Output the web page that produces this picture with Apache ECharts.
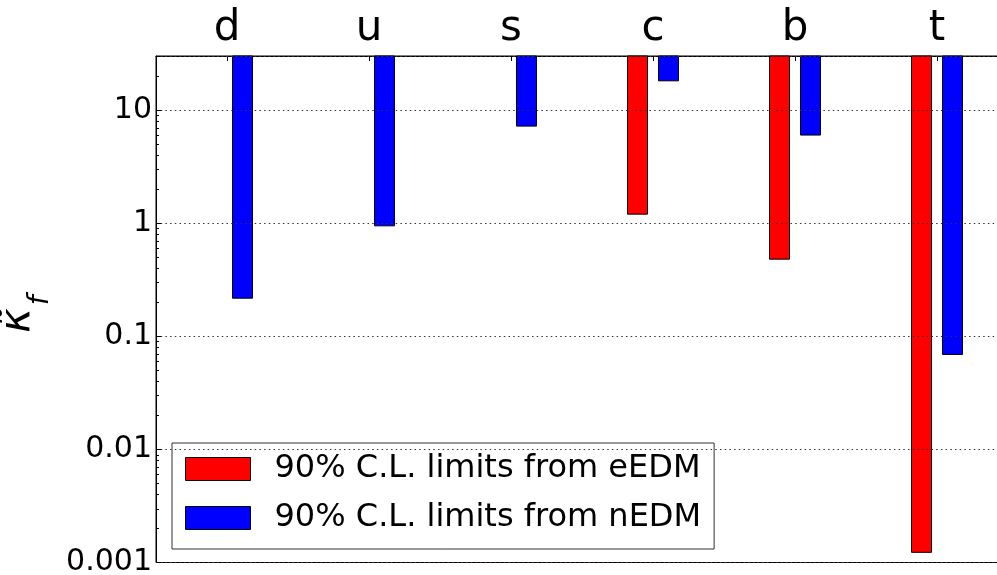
<!DOCTYPE html>
<html>
<head>
<meta charset="utf-8">
<script src="https://cdn.jsdelivr.net/npm/echarts@6/dist/echarts.min.js"></script>
<style>
html,body{margin:0;padding:0;background:#fff;}
#chart{width:997px;height:575px;}
</style>
</head>
<body>
<div id="chart"></div>
<script>
// ---- data ----
const categories = ['d', 'u', 's', 'c', 'b', 't'];
const eEDM = [null, null, null, 1.2, 0.48, 0.00123];   // red
const nEDM = [0.217, 0.946, 7.2, 18.1, 6.0, 0.069];     // blue
const yTickValues = [0.001, 0.01, 0.1, 1, 10];
const yTickLabels = ['0.001', '0.01', '0.1', '1', '10'];
const minorMultipliers = [2, 3, 4, 5, 6, 7, 8, 9];
const seriesNames = ['90% C.L. limits from eEDM', '90% C.L. limits from nEDM'];
const yMin = 0.001, yMax = 30;

const FONT = 'DejaVu Sans';
const chart = echarts.init(document.getElementById('chart'));

function barRenderer(offsetFrac, widthFrac) {
  return function (params, api) {
    const idx = api.value(0), v = api.value(1);
    const top = api.coord([idx, yMax]);
    const bot = api.coord([idx, v]);
    const band = api.size([1, 0])[0];
    return {
      type: 'rect',
      shape: { x: Math.round(top[0] + offsetFrac * band) + 0.5, y: top[1], width: Math.round(widthFrac * band), height: bot[1] - top[1] },
      style: { fill: api.visual('color'), stroke: '#000', lineWidth: 1 }
    };
  };
}
function toData(arr) {
  const out = [];
  arr.forEach((v, i) => { if (v != null) out.push([i, v]); });
  return out;
}

const option = {
  animation: false,
  backgroundColor: '#fff',
  grid: { left: 156, top: 56, right: -11, bottom: 12.5, outerBoundsMode: 'none', containLabel: false, show: true, borderColor: '#000', borderWidth: 1 },
  legend: {
    left: 172, top: 443, orient: 'vertical',
    data: [
      { name: seriesNames[0], icon: 'rect', itemStyle: { color: '#ff0000', borderColor: '#000', borderWidth: 1 } },
      { name: seriesNames[1], icon: 'rect', itemStyle: { color: '#0000ff', borderColor: '#000', borderWidth: 1 } }
    ],
    itemWidth: 65, itemHeight: 23, itemGap: 17,
    padding: [10, 13, 15, 13],
    backgroundColor: '#fff', borderColor: '#333', borderWidth: 1,
    selectedMode: false,
    textStyle: { fontFamily: FONT, fontSize: 32, color: '#000', padding: [0, 0, 0, 19] }
  },
  xAxis: {
    type: 'category', position: 'top', data: categories, boundaryGap: true,
    axisLine: { show: true, lineStyle: { color: '#000', width: 1 } },
    axisTick: { show: true, inside: true, length: 5, alignWithLabel: true, lineStyle: { color: '#000' } },
    axisLabel: { fontFamily: FONT, fontSize: 42, color: '#000', margin: 6 },
    splitLine: { show: false }
  },
  yAxis: {
    type: 'log', logBase: 10, min: yMin, max: yMax, z: 5,
    axisLine: { show: true, lineStyle: { color: '#000', width: 1 } },
    axisTick: { show: true, inside: true, length: 5, lineStyle: { color: '#000' } },
    axisLabel: {
      fontFamily: FONT, fontSize: 30, color: '#000', margin: 4, showMaxLabel: false,
      formatter: function (v) {
        for (let i = 0; i < yTickValues.length; i++) {
          if (Math.abs(Math.log10(v) - Math.log10(yTickValues[i])) < 1e-6) return yTickLabels[i];
        }
        return '';
      }
    },
    splitLine: { show: true, lineStyle: { color: '#333', width: 1, type: [1.5, 3.2] } },
    name: '{k|κ\u0303}{f|f}',
    nameLocation: 'middle', nameGap: 96, nameRotate: 90,
    nameTextStyle: {
      rich: {
        k: { fontFamily: FONT, fontStyle: 'italic', fontSize: 42, color: '#000', verticalAlign: 'bottom', padding: [0, 3, 16, 0] },
        f: { fontFamily: FONT, fontStyle: 'italic', fontSize: 28, color: '#000', verticalAlign: 'bottom', padding: [0, 10, 0, 0] }
      }
    }
  },
  series: [
    {
      name: seriesNames[0], type: 'custom', itemStyle: { color: '#ff0000' },
      renderItem: barRenderer(-0.183, 0.141), data: toData(eEDM), z: 2
    },
    {
      name: seriesNames[1], type: 'custom', itemStyle: { color: '#0000ff' },
      renderItem: barRenderer(0.035, 0.141), data: toData(nEDM), z: 2
    },
    {
      name: 'minorTicks', type: 'custom', silent: true, z: 6,
      data: yTickValues.map(v => [0, v]),
      renderItem: function (params, api) {
        const dec = api.value(1);
        const x0 = params.coordSys.x;
        const children = [];
        minorMultipliers.forEach(m => {
          const v = dec * m;
          if (v > yMax) return;
          const y = Math.round(api.coord([0, v])[1]) + 0.5;
          children.push({ type: 'line', shape: { x1: x0, y1: y, x2: x0 + 3, y2: y }, style: { stroke: '#000', lineWidth: 1 } });
        });
        return { type: 'group', children: children };
      }
    }
  ]
};
chart.setOption(option);
</script>
</body>
</html>
